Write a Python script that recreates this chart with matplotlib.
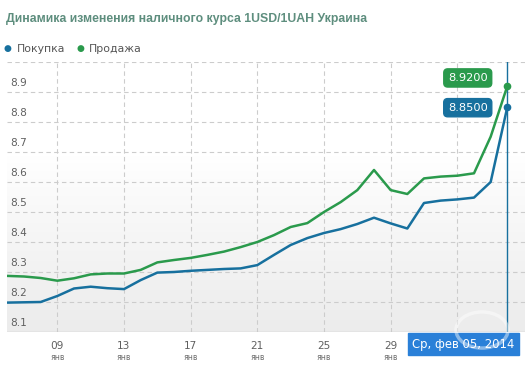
import matplotlib.pyplot as plt
import numpy as np
from matplotlib.patches import Circle

# days counted from 06 Jan 2014 (0) to 05 Feb 2014 (30)
days = list(range(31))
buy = [8.198, 8.199, 8.200, 8.220, 8.245, 8.251, 8.246, 8.243, 8.273, 8.298,
       8.300, 8.304, 8.307, 8.310, 8.312, 8.323, 8.357, 8.390, 8.413, 8.430,
       8.443, 8.460, 8.481, 8.462, 8.445, 8.530, 8.538, 8.542, 8.548, 8.600,
       8.850]
sell = [8.287, 8.285, 8.280, 8.271, 8.279, 8.292, 8.295, 8.295, 8.307, 8.332,
        8.340, 8.347, 8.357, 8.368, 8.383, 8.400, 8.423, 8.450, 8.463, 8.500,
        8.533, 8.573, 8.640, 8.573, 8.560, 8.612, 8.618, 8.621, 8.629, 8.751,
        8.920]
tick_days = [3, 7, 11, 15, 19, 23]
tick_labels = ["09", "13", "17", "21", "25", "29"]
month_label = "янв"
y_ticks = [8.1, 8.2, 8.3, 8.4, 8.5, 8.6, 8.7, 8.8, 8.9]
date_label = "Ср, фев 05, 2014"

BLUE = "#17709e"
GREEN = "#2a9a4c"
TITLE_C = "#5e8e7e"

plt.rcParams['font.family'] = ['DejaVu Sans']

W, H = 530, 368
fig = plt.figure(figsize=(W / 100, H / 100), dpi=100)
x0, x1, y0, y1 = 7, 525, 62, 332
ax = fig.add_axes([x0 / W, 1 - y1 / H, (x1 - x0) / W, (y1 - y0) / H])

# background gradient: white at top, light gray toward the bottom
t = np.linspace(0.0, 1.0, 256)
shade = 1.0 - 0.075 * np.clip((t - 0.35) / 0.65, 0, 1) ** 0.9
cols = np.repeat(shade[:, None, None], 3, axis=2)
ax.imshow(cols, extent=[0, 1, 0, 1], transform=ax.transAxes, aspect='auto',
          origin='upper', zorder=0, vmin=0, vmax=1)

ax.set_xlim(-0.02, 31.06)
ax.set_ylim(8.1, 9.0)

for v in y_ticks[1:] + [9.0]:
    ax.axhline(v, color="#cccccc", lw=0.8, ls=(0, (4, 3)), zorder=1)
for d in tick_days + [27]:
    ax.axvline(d, color="#cccccc", lw=0.8, ls=(0, (4, 3)), zorder=1)

for s in ax.spines.values():
    s.set_visible(False)
ax.axhline(8.1, color="#c8c8c8", lw=1, zorder=1)
ax.set_xticks([])
ax.set_yticks([])

ax.plot(days, buy, color=BLUE, lw=1.8, zorder=3, solid_capstyle='round')
ax.plot(days, sell, color=GREEN, lw=1.8, zorder=3, solid_capstyle='round')
ax.plot(days[-1], buy[-1], 'o', color=BLUE, ms=4.5, zorder=4)
ax.plot(days[-1], sell[-1], 'o', color=GREEN, ms=4.5, zorder=4)
ax.axvline(days[-1], color=BLUE, lw=1, zorder=2)

# y labels sit inside the plot, just above each grid line
for v in y_ticks:
    ax.annotate(f"{v:.1f}", xy=(0, v), xycoords=('axes fraction', 'data'),
                xytext=(2.5, 3), textcoords='offset points', ha='left', va='bottom',
                fontsize=7.6, color="#606060")

# x labels
for d, lab in zip(tick_days, tick_labels):
    ax.annotate(lab, xy=(d, 0), xycoords=('data', 'axes fraction'),
                xytext=(0, -10), textcoords='offset points', ha='center', va='center',
                fontsize=7.6, color="#606060")
    ax.annotate(month_label, xy=(d, 0), xycoords=('data', 'axes fraction'),
                xytext=(0, -18), textcoords='offset points', ha='center', va='center',
                fontsize=5.6, color="#707070")

# value flags
ax.annotate(f"{sell[-1]:.4f}", xy=(days[-1], sell[-1]), xytext=(-28.5, 5.8),
            textcoords='offset points', ha='center', va='center', fontsize=8.2,
            color='white', zorder=6,
            bbox=dict(boxstyle='round,pad=0.36,rounding_size=0.35', fc=GREEN, ec=GREEN))
ax.annotate(f"{buy[-1]:.4f}", xy=(days[-1], buy[-1]), xytext=(-28.5, -0.5),
            textcoords='offset points', ha='center', va='center', fontsize=8.2,
            color='white', zorder=6,
            bbox=dict(boxstyle='round,pad=0.36,rounding_size=0.35', fc=BLUE, ec=BLUE))

# date flag under the axis
ax.annotate(date_label, xy=(days[-1], 0), xycoords=('data', 'axes fraction'),
            xytext=(-31.5, -8.8), textcoords='offset points', ha='center', va='center',
            fontsize=8.4, color='white', zorder=6, annotation_clip=False,
            bbox=dict(boxstyle='square,pad=0.38', fc="#2a80d8", ec="#2a80d8"))

# faint watermark ring
wm = Circle((482 / W, 1 - 330 / H), 26 / W, transform=fig.transFigure,
            fc='none', ec='white', alpha=0.45, lw=2.5, zorder=10)
fig.patches.append(wm)

fig.text(6 / W, 1 - 19 / H, "Динамика изменения наличного курса 1USD/1UAH Украина",
         fontsize=8.8, fontweight='bold', color=TITLE_C, va='center', ha='left',
         family=['Liberation Sans', 'DejaVu Sans'])

fig.text(7 / W, 1 - 49 / H, "●", fontsize=6.5, color=BLUE, va='center', ha='center')
fig.text(17 / W, 1 - 49 / H, "Покупка", fontsize=7.8, color="#555555", va='center')
fig.text(80 / W, 1 - 49 / H, "●", fontsize=6.5, color=GREEN, va='center', ha='center')
fig.text(89 / W, 1 - 49 / H, "Продажа", fontsize=7.8, color="#555555", va='center')

fig.savefig("out.png", dpi=100)
